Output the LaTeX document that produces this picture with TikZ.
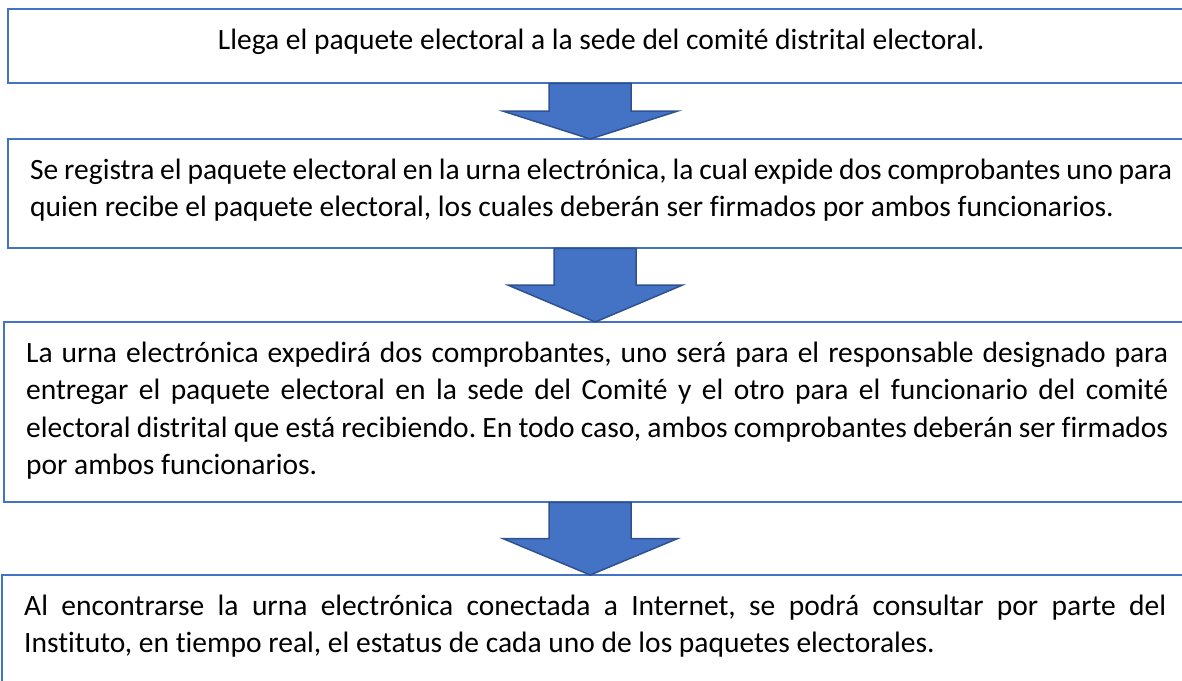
\documentclass[tikz,border=0pt]{standalone}
\usepackage{fontspec}
\setmainfont{Carlito}[Ligatures=NoCommon]
\usetikzlibrary{calc}
\frenchspacing

\definecolor{cajaazul}{RGB}{68,114,196}
\definecolor{flechaborde}{RGB}{47,82,143}

\tikzset{
  caja/.style={anchor=north west, inner xsep=22bp, inner ysep=14bp,
    text width=1142bp, align=justify, text height=26bp, text depth=#1,
    font=\fontsize{29.5bp}{37.5bp}\selectfont},
  marco/.style={draw=cajaazul, line width=2bp},
  flecha/.style={fill=cajaazul, draw=flechaborde, line width=1.5bp, line join=miter}
}

% block arrow from the bottom of #1 to the top of #2, shifted by #3
\newcommand{\bajada}[3]{%
  \path[flecha] let \p1=(#1.south), \p2=(#2.north), \n1={(\y1+\y2)/2}, \n2={\x1+#3} in
    (\n2-41bp,\y1) -- (\n2+41bp,\y1) -- (\n2+41bp,\n1) -- (\n2+87bp,\n1)
    -- (\n2,\y2) -- (\n2-87bp,\n1) -- (\n2-41bp,\n1) -- cycle;}

\begin{document}
\begin{tikzpicture}[x=1bp,y=-1bp]

\useasboundingbox (0,0) rectangle (1182,681);
\clip (0,0) rectangle (1182,681);

\node[caja=20bp, align=flush center] (paso1) at (8,9)
  {Llega el paquete electoral a la sede del comité distrital electoral.};
\node[caja=55bp] (paso2) at (8,139)
  {Se registra el paquete electoral en la urna electrónica, la cual expide dos comprobantes uno para\linebreak
   quien recibe el paquete electoral, los cuales deberán ser firmados por ambos funcionarios.};
\node[caja=126bp] (paso3) at (4,322)
  {La urna electrónica expedirá dos comprobantes, uno será para el responsable designado para\linebreak
   entregar el paquete electoral en la sede del Comité y el otro para el funcionario del comité\linebreak
   electoral distrital que está recibiendo. En todo caso, ambos comprobantes deberán ser firmados\linebreak
   por ambos funcionarios.};
\node[caja=58bp] (paso4) at (2,575)
  {Al encontrarse la urna electrónica conectada a Internet, se podrá consultar por parte del\linebreak
   Instituto, en tiempo real, el estatus de cada uno de los paquetes electorales.};

% the frames run out past the right edge
\foreach \p in {paso1,paso2,paso3,paso4}
  \draw[marco] (\p.north west) rectangle ([xshift=40bp]\p.south east);

\bajada{paso1}{paso2}{-11bp}
\bajada{paso2}{paso3}{-6bp}
\bajada{paso3}{paso4}{-7bp}

\end{tikzpicture}
\end{document}
